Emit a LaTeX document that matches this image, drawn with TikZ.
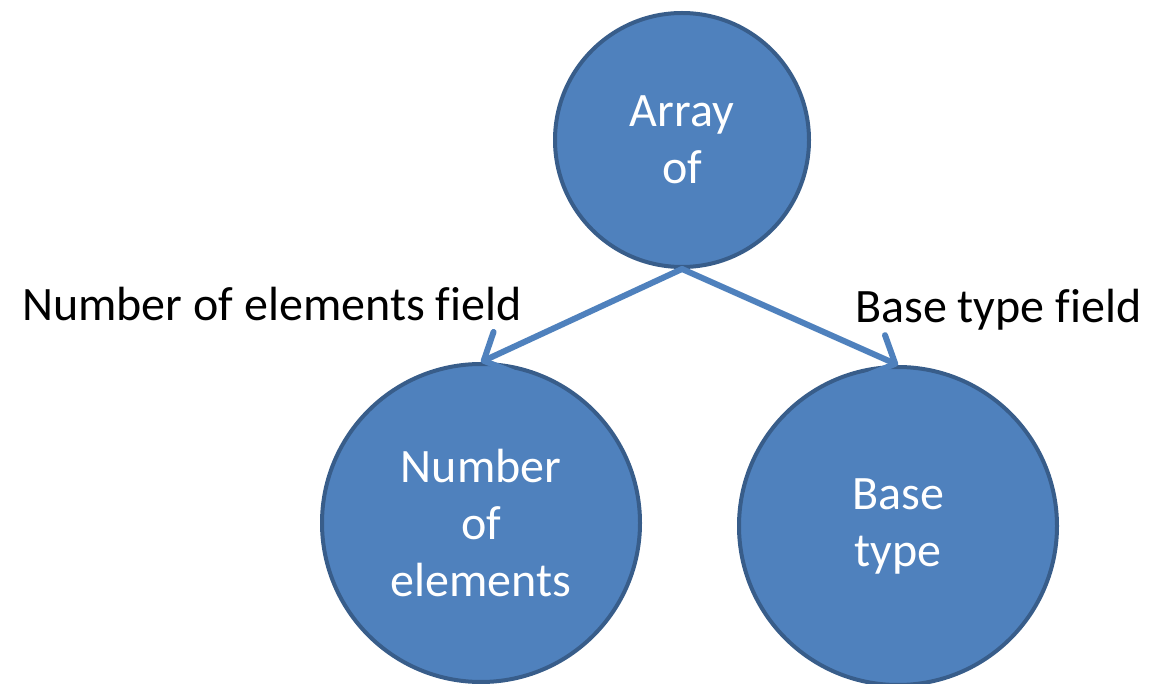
\documentclass[tikz,border=0pt]{standalone}
\usepackage{fontspec}
\setmainfont{Carlito}[Ligatures=NoCommon]
\usetikzlibrary{arrows.meta}

\definecolor{fillblue}{HTML}{4F81BD}
\definecolor{edgeblue}{HTML}{385D8A}

\tikzset{
  bubble/.style={circle, draw=edgeblue, fill=fillblue, line width=4pt, text=white,
    align=center, inner sep=0pt, font=\fontsize{48}{57}\selectfont},
  link/.style={draw=fillblue, line width=6pt, line cap=round,
    -{Straight Barb[length=21pt,width=44pt,round]}},
  fieldlabel/.style={anchor=base west, inner sep=0pt, font=\fontsize{48}{57}\selectfont}
}

\begin{document}
\begin{tikzpicture}[x=1pt, y=-1pt]
    \useasboundingbox (0,0) rectangle (1149,684);

    \node[bubble, minimum size=254pt] (array) at (682,140) {Array\\of};
    \node[bubble, minimum size=318pt] (num) at (481,523) {Number\\of\\elements};
    \node[bubble, minimum size=318pt] (base) at (898,526) {Base\\type};

    \node[fieldlabel] (numlabel) at (22,321) {Number of elements field};
    \node[fieldlabel] (baselabel) at (855,323) {Base type field};

    \draw[link] (array.south) -- (num.north);
    \draw[link] (array.south) -- (base.north);

\end{tikzpicture}
\end{document}
